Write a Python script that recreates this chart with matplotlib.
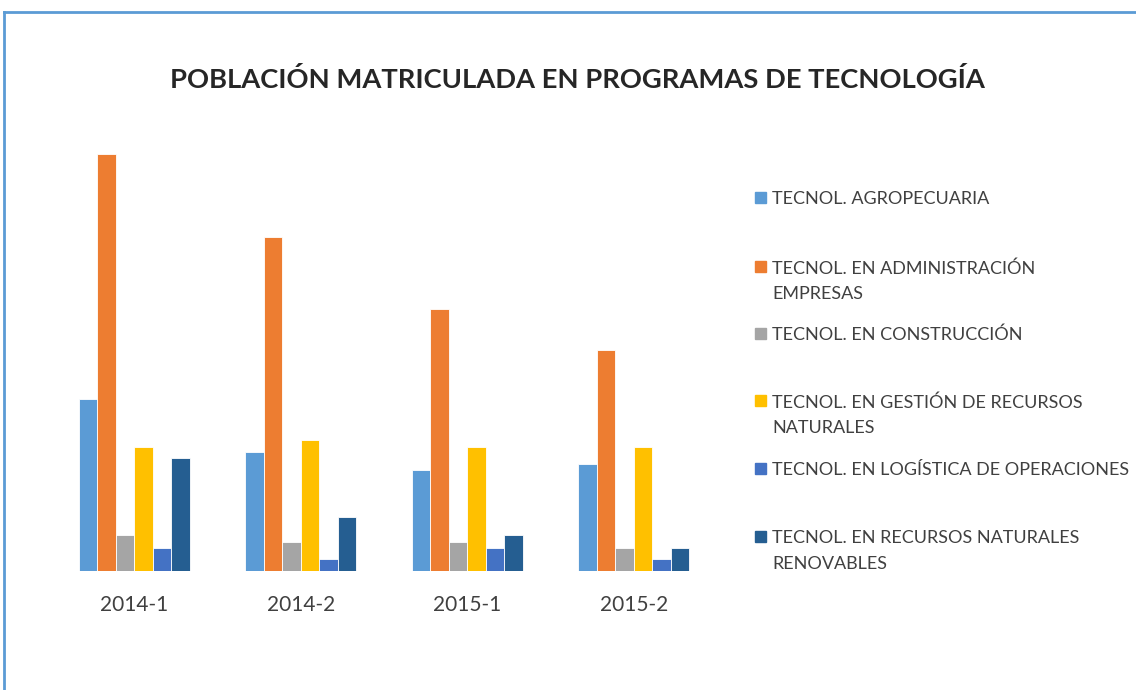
import matplotlib
matplotlib.use("Agg")
import matplotlib.pyplot as plt
from matplotlib.patches import Rectangle
from matplotlib.lines import Line2D
import numpy as np

plt.rcParams['font.family'] = ['Lato', 'DejaVu Sans']

periods = ['2014-1', '2014-2', '2015-1', '2015-2']
series = [
    'TECNOL. AGROPECUARIA',
    'TECNOL. EN ADMINISTRACIÓN\nEMPRESAS',
    'TECNOL. EN CONSTRUCCIÓN',
    'TECNOL. EN GESTIÓN DE RECURSOS\nNATURALES',
    'TECNOL. EN LOGÍSTICA DE OPERACIONES',
    'TECNOL. EN RECURSOS NATURALES\nRENOVABLES',
]
colors = ['#5B9BD5', '#ED7D31', '#A5A5A5', '#FFC000', '#4472C4', '#255E91']

# values (no axis shown, relative heights)
agropecuaria = [172, 119, 101, 107]
administracion = [417, 334, 262, 221]
construccion = [36, 29, 29, 23]
gestion = [124, 131, 124, 124]
logistica = [23, 12, 23, 12]
renovables = [113, 54, 36, 23]
values = [agropecuaria, administracion, construccion, gestion, logistica, renovables]

W, H = 1136, 690
fig = plt.figure(figsize=(W / 100, H / 100), dpi=100)

# plot area in pixels: left 51, right 717, bottom 571, top 140
ax = fig.add_axes([51 / W, 1 - 571 / H, (717 - 51) / W, (571 - 140) / H])

x = np.arange(len(periods))
n = len(series)
group = 0.667
bw = group / n
for i, (vals, c) in enumerate(zip(values, colors)):
    ax.bar(x - group / 2 + bw * (i + 0.5), vals, width=bw, color=c,
           edgecolor='white', linewidth=0.6)

ax.set_xlim(-0.5, len(periods) - 0.5)
ax.set_ylim(0, 431)
ax.set_yticks([])
ax.set_xticks(x)
ax.set_xticklabels(periods, fontsize=15, color='#404040')
ax.tick_params(axis='x', length=0, pad=17)
for s in ax.spines.values():
    s.set_visible(False)

fig.text(577 / W, 1 - 79 / H, 'POBLACIÓN MATRICULADA EN PROGRAMAS DE TECNOLOGÍA',
         ha='center', va='center', fontsize=19.7, fontweight='bold', color='#262626')

# legend, laid out by hand like the original
legend_y = [198, 267, 334, 401, 469, 537]
for lab, c, yy in zip(series, colors, legend_y):
    fig.patches.append(Rectangle((755 / W, 1 - (yy + 5) / H), 11 / W, 11 / H,
                                 transform=fig.transFigure, color=c))
    fig.text(772 / W, 1 - (yy - 7) / H, lab, ha='left', va='top',
             fontsize=13, color='#404040', linespacing=1.75)

# chart frame (blue line top and left)
fig.add_artist(Line2D([4 / W, 1], [1 - 12 / H, 1 - 12 / H], color='#5B9BD5', lw=2,
                      transform=fig.transFigure))
fig.add_artist(Line2D([4 / W, 4 / W], [0, 1 - 12 / H], color='#5B9BD5', lw=2,
                      transform=fig.transFigure))

fig.savefig('out.png', dpi=100)
